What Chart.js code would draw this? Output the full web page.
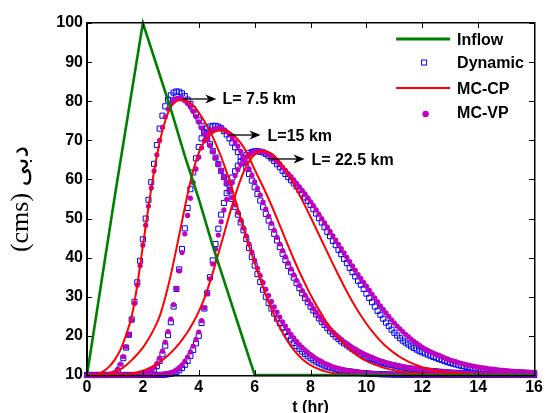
<!DOCTYPE html>
<html><head><meta charset="utf-8">
<style>html,body{margin:0;padding:0;background:#fff}</style>
<script src="https://cdn.jsdelivr.net/npm/chart.js@4.4.1/dist/chart.umd.min.js"></script>
</head><body>
<canvas id="c" width="546" height="413" style="display:block"></canvas>
<script>
// ---------- data ----------
const seriesNames = ['Inflow', 'Dynamic', 'MC-CP', 'MC-VP'];
const reachLabels = ['L= 7.5 km', 'L=15 km', 'L= 22.5 km'];
const xTickValues = [0, 2, 4, 6, 8, 10, 12, 14, 16];
const yTickValues = [10, 20, 30, 40, 50, 60, 70, 80, 90, 100];

const tInflow = [0, 0.5, 1, 1.5, 2, 2.5, 3, 3.5, 4, 4.5, 5, 5.5, 6, 16];
const inflow  = [10, 33, 56, 78, 100, 89, 78, 66, 55, 43, 32, 21, 10, 10];

const tMarker = [
0,0.1,0.2,0.3,0.4,0.5,0.6,0.7,0.8,0.9,
1,1.1,1.2,1.3,1.4,1.5,1.6,1.7,1.8,1.9,
2,2.1,2.2,2.3,2.4,2.5,2.6,2.7,2.8,2.9,
3,3.1,3.2,3.3,3.4,3.5,3.6,3.7,3.8,3.9,
4,4.1,4.2,4.3,4.4,4.5,4.6,4.7,4.8,4.9,
5,5.1,5.2,5.3,5.4,5.5,5.6,5.7,5.8,5.9,
6,6.1,6.2,6.3,6.4,6.5,6.6,6.7,6.8,6.9,
7,7.1,7.2,7.3,7.4,7.5,7.6,7.7,7.8,7.9,
8,8.1,8.2,8.3,8.4,8.5,8.6,8.7,8.8,8.9,
9,9.1,9.2,9.3,9.4,9.5,9.6,9.7,9.8,9.9,
10,10.1,10.2,10.3,10.4,10.5,10.6,10.7,10.8,10.9,
11,11.1,11.2,11.3,11.4,11.5,11.6,11.7,11.8,11.9,
12,12.1,12.2,12.3,12.4,12.5,12.6,12.7,12.8,12.9,
13,13.1,13.2,13.3,13.4,13.5,13.6,13.7,13.8,13.9,
14,14.1,14.2,14.3,14.4,14.5,14.6,14.7,14.8,14.9,
15,15.1,15.2,15.3,15.4,15.5,15.6,15.7,15.8,15.9,
16];

const tLine = [
0,0.2,0.4,0.6,0.8,1,1.2,1.4,1.6,1.8,
2,2.2,2.4,2.6,2.8,3,3.2,3.4,3.6,3.8,
4,4.2,4.4,4.6,4.8,5,5.2,5.4,5.6,5.8,
6,6.2,6.4,6.6,6.8,7,7.2,7.4,7.6,7.8,
8,8.2,8.4,8.6,8.8,9,9.2,9.4,9.6,9.8,
10,10.2,10.4,10.6,10.8,11,11.2,11.4,11.6,11.8,
12,12.2,12.4,12.6,12.8,13,13.2,13.4,13.6,13.8,
14,14.2,14.4,14.6,14.8,15,15.2,15.4,15.6,15.8,
16];

// Dynamic (blue squares)
const dyn75 = [
10,10,10,10,10,10,10,10,10,10.1,
10.3,11,12.3,14.3,17,20.3,24.2,28.7,33.7,39.2,
44.7,50,54.8,59.3,64,68.8,73,76.3,78.7,80.4,
81.5,82.2,82.5,82.4,82,81.3,80.4,79.3,78,76.6,
75.1,73.6,72,70.5,69,67.3,65.6,63.9,62.2,60.6,
59,57,55,53,51,49,47,44.8,42.5,40.2,
38,35.8,33.8,31.8,30,28.4,27,25.7,24.4,23.2,
22.1,21,20,19.1,18.2,17.4,16.7,16,15.4,14.8,
14.3,13.8,13.4,13,12.7,12.4,12.1,11.9,11.7,11.5,
11.3,11.2,11.1,11,10.9,10.8,10.7,10.6,10.5,10.45,
10.4,10.35,10.3,10.27,10.24,10.21,10.18,10.16,10.14,10.12,
10.1,10.09,10.08,10.07,10.06,10.05,10.04,10.04,10.03,10.03,
10.02,10.02,10.02,10.02,10.02,10.02,10.02,10.02,10.02,10.02,
10.01,10.01,10.01,10.01,10.01,10.01,10.01,10.01,10.01,10.01,
10,10,10,10,10,10,10,10,10,10,
10,10,10,10,10,10,10,10,10,10,
10];
const dyn15 = [
10,10,10,10,10,10,10,10,10,10,
10,10,10,10,10,10,10,10,10,10,
10.1,10.2,10.4,10.8,11.4,12.3,13.6,15.3,17.5,20.2,
23.5,27.5,32,37,42.2,47.5,52.7,57.5,61.8,65.4,
68.3,70.5,72,73,73.5,73.7,73.7,73.5,73.1,72.4,
71.5,70.5,69.4,68.2,67,65.8,64.4,63,61.4,59.7,
58,56.3,54.6,52.9,51.2,49.5,47.8,46.1,44.4,42.7,
41,39.4,37.9,36.4,34.9,33.5,32.2,30.9,29.7,28.6,
27.5,26.5,25.5,24.5,23.6,22.8,22,21.2,20.5,19.8,
19.2,18.6,18.1,17.6,17.1,16.6,16.2,15.8,15.4,15,
14.7,14.4,14.1,13.8,13.5,13.3,13.1,12.9,12.7,12.55,
12.4,12.25,12.1,11.95,11.8,11.7,11.6,11.5,11.4,11.3,
11.2,11.14,11.08,11.02,10.96,10.9,10.84,10.78,10.72,10.66,
10.6,10.57,10.54,10.51,10.48,10.45,10.42,10.39,10.36,10.33,
10.3,10.28,10.27,10.25,10.24,10.22,10.21,10.19,10.18,10.16,
10.15,10.14,10.13,10.12,10.11,10.1,10.09,10.08,10.07,10.06,
10.05];
const dyn225 = [
10,10,10,10,10,10,10,10,10,10,
10,10,10,10,10,10,10,10,10,10,
10,10,10,10,10,10,10,10.05,10.1,10.2,
10.3,10.5,10.8,11.2,11.8,12.6,13.6,14.9,16.4,18.1,
20,23.3,27,30.9,35,39.3,43.5,47.4,51,54,
56.5,58.6,60.5,62.1,63.5,64.6,65.5,66.2,66.7,67,
67.2,67.2,67.1,66.9,66.5,66,65.4,64.7,63.9,63.1,
62.2,61.4,60.6,59.8,59,58.2,57.3,56.4,55.4,54.5,
53.5,52.4,51.3,50.1,49,47.8,46.6,45.5,44.3,43.2,
42,40.9,39.7,38.6,37.4,36.3,35.2,34.1,33.1,32,
30.8,29.7,28.6,27.5,26.4,25.4,24.4,23.4,22.5,21.6,
20.8,20.1,19.4,18.8,18.3,17.8,17.3,16.9,16.5,16.1,
15.8,15.5,15.2,14.9,14.6,14.3,14.05,13.8,13.55,13.3,
13.1,12.9,12.7,12.5,12.35,12.2,12.05,11.9,11.78,11.66,
11.55,11.45,11.36,11.28,11.2,11.12,11.05,10.98,10.92,10.86,
10.81,10.76,10.72,10.68,10.64,10.61,10.58,10.55,10.52,10.5,
10.48];

// MC-VP (purple dots)
const vp75 = [
10,10,10,10,10,10,10,10,10.1,10.3,
10.7,11.5,12.8,14.7,17.2,20.3,24,28.3,33,38,
43.2,48.3,53.2,57.8,62.2,66.3,70,73.3,76,78,
79.4,80.3,80.7,80.8,80.6,80.1,79.4,78.5,77.4,76.1,
74.7,73.2,71.7,70.2,68.7,67.1,65.5,63.9,62.3,60.7,
59.1,57.3,55.4,53.5,51.6,49.6,47.6,45.6,43.5,41.4,
39.3,37.3,35.4,33.6,31.9,30.3,28.8,27.4,26.1,24.8,
23.6,22.5,21.4,20.4,19.5,18.6,17.8,17.1,16.4,15.8,
15.2,14.7,14.2,13.8,13.4,13,12.7,12.4,12.1,11.9,
11.7,11.5,11.3,11.2,11.1,11,10.9,10.8,10.7,10.6,
10.5,10.45,10.4,10.35,10.3,10.26,10.22,10.19,10.16,10.14,
10.12,10.1,10.08,10.07,10.06,10.05,10.04,10.03,10.03,10.02,
10,10,10,10,10,10,10,10,10,10,
10,10,10,10,10,10,10,10,10,10,
10,10,10,10,10,10,10,10,10,10,
10,10,10,10,10,10,10,10,10,10,
10];
const vp15 = [
10,10,10,10,10,10,10,10,10,10,
10,10,10,10,10,10,10,10,10.05,10.1,
10.2,10.4,10.7,11.2,11.9,12.9,14.3,16.1,18.4,21.1,
24.3,28,32.1,36.6,41.3,46.1,50.8,55.2,59.2,62.7,
65.7,68.1,69.9,71.2,72.1,72.7,73,73.1,73,72.7,
72.2,71.5,70.6,69.6,68.5,67.2,65.8,64.3,62.7,61.1,
59.4,57.7,56,54.2,52.4,50.6,48.8,47,45.2,43.5,
41.8,40.2,38.6,37.1,35.6,34.2,32.9,31.6,30.4,29.2,
28.1,27,26,25,24.1,23.3,22.5,21.7,21,20.3,
19.7,19.1,18.5,18,17.5,17,16.6,16.2,15.8,15.4,
15.1,14.8,14.5,14.2,13.9,13.6,13.4,13.2,13,12.8,
12.6,12.45,12.3,12.15,12,11.9,11.8,11.7,11.6,11.5,
11.4,11.32,11.24,11.16,11.08,11,10.94,10.88,10.82,10.76,
10.7,10.66,10.62,10.58,10.54,10.5,10.47,10.44,10.41,10.38,
10.35,10.33,10.31,10.29,10.27,10.25,10.23,10.21,10.2,10.19,
10.18,10.17,10.16,10.15,10.14,10.13,10.12,10.11,10.1,10.09,
10.08];
const vp225 = [
10,10,10,10,10,10,10,10,10,10,
10,10,10,10,10,10,10,10,10,10,
10,10,10,10,10,10.05,10.1,10.15,10.25,10.4,
10.6,10.9,11.3,11.9,12.6,13.5,14.6,15.9,17.4,19.1,
21,23.9,27.2,30.8,34.6,38.4,42.2,45.8,49.2,52.2,
54.9,57.2,59.2,61,62.5,63.8,64.9,65.7,66.3,66.8,
67.1,67.2,67.2,67.1,66.8,66.4,65.9,65.3,64.6,63.9,
63.1,62.3,61.5,60.7,59.9,59,58.1,57.2,56.3,55.3,
54.3,53.3,52.2,51.1,50,48.9,47.8,46.7,45.6,44.5,
43.4,42.3,41.2,40.1,39,37.9,36.8,35.7,34.7,33.7,
32.7,31.7,30.7,29.7,28.7,27.7,26.8,25.9,25,24.1,
23.3,22.5,21.8,21.1,20.4,19.8,19.2,18.6,18.1,17.6,
17.1,16.7,16.3,15.9,15.6,15.3,15,14.7,14.4,14.1,
13.8,13.6,13.4,13.2,13,12.8,12.6,12.45,12.3,12.15,
12,11.9,11.8,11.7,11.6,11.5,11.42,11.34,11.26,11.19,
11.12,11.06,11,10.95,10.9,10.85,10.8,10.76,10.72,10.68,
10.65];

// MC-CP (red lines)
const cp75 = [
10,10,10.3,11,12.2,14,16.5,20.3,25,33,
43,53,62,69.5,75,78.5,80,80.4,80,78.9,
77.1,74.9,72.3,69.3,65.8,61.8,57.4,52.5,47.6,43,
38.7,34.5,30.4,26.9,23.7,20.8,18.4,16.4,14.8,13.5,
12.5,11.8,11.2,10.8,10.5,10.3,10.2,10.1,10.05,10.02,
10,10,10,10,10,10,10,10,10,10,
10,10,10,10,10,10,10,10,10,10,
10,10,10,10,10,10,10,10,10,10,
10];
const cp15 = [
10,10,10,10.1,10.3,10.8,11.5,12.5,13.8,15.3,
17,19.2,21.8,25,29.8,35.6,42.3,49.3,56.2,62.2,
66.8,69.7,71.4,72.3,72.6,72.4,71.6,70.2,68.3,65.6,
62.5,59.6,56.6,53.4,50,46.5,43,39.6,36.4,33.4,
30.5,27.9,25.5,23.2,21.3,19.5,18,16.6,15.4,14.4,
13.6,12.9,12.4,11.9,11.5,11.2,10.95,10.75,10.6,10.45,
10.35,10.27,10.2,10.15,10.1,10.07,10.05,10.03,10.02,10.01,
10,10,10,10,10,10,10,10,10,10,
10];
const cp225 = [
10,10,10,10,10,10,10.1,10.2,10.4,10.7,
11.1,11.7,12.4,13.3,14.4,15.7,17.2,19,21,23.4,
26.2,29.6,33.8,38.5,43.5,48.5,53.5,58,61.8,64.6,
66.4,67.2,67.2,66.6,65.3,63.5,61.3,58.8,56.1,53.3,
50.4,47.4,44.4,41.4,38.4,35.5,32.7,30,27.5,25.2,
23.1,21.2,19.5,18,16.7,15.6,14.6,13.8,13.1,12.5,
12,11.6,11.3,11,10.8,10.6,10.5,10.4,10.3,10.22,
10.16,10.12,10.09,10.07,10.05,10.04,10.03,10.02,10.01,10,
10];

// ---------- chart ----------
Chart.defaults.font.family = "'Liberation Sans', Arial, Helvetica, sans-serif";
Chart.defaults.color = '#000';

const COL = { inflow: '#008000', dyn: '#0000ff', cp: '#ff0000', vp: '#bf00bf' };
const pts = (tt, vv) => tt.map((t, i) => ({ x: t, y: vv[i] }));

const datasets = [
  { label: seriesNames[0], data: pts(tInflow, inflow), borderColor: COL.inflow, borderWidth: 2.6,
    pointRadius: 0, tension: 0, order: 0, clip: false },
];
[cp75, cp15, cp225].forEach(v => datasets.push({
  label: seriesNames[2], data: pts(tLine, v), borderColor: COL.cp, borderWidth: 2,
  pointRadius: 0, cubicInterpolationMode: 'monotone', order: 1, clip: false }));
[vp75, vp15, vp225].forEach(v => datasets.push({
  label: seriesNames[3], data: pts(tMarker, v), showLine: false, pointStyle: 'circle',
  pointRadius: 2.6, pointBackgroundColor: COL.vp, pointBorderWidth: 0, order: 2, clip: false }));
[dyn75, dyn15, dyn225].forEach(v => datasets.push({
  label: seriesNames[1], data: pts(tMarker, v), showLine: false, pointStyle: 'rect',
  pointRadius: 3.6, pointBorderColor: COL.dyn, pointBorderWidth: 1,
  pointBackgroundColor: 'rgba(0,0,0,0)', order: 3, clip: false }));

// annotation anchors (data coordinates)
const annot = [
  { text: reachLabels[0], t0: 3.43, t1: 4.63, ya: 80.57, tt: 4.85, yt: 80.3 },
  { text: reachLabels[1], t0: 5.07, t1: 6.21, ya: 71.36, tt: 6.46, yt: 70.93 },
  { text: reachLabels[2], t0: 6.5,  t1: 7.79, ya: 65.23, tt: 8.03, yt: 64.84 },
];

const decor = {
  id: 'decor',
  afterDraw(chart) {
    const ctx = chart.ctx, ca = chart.chartArea, x = chart.scales.x, y = chart.scales.y;
    ctx.save();
    ctx.globalAlpha = 1;
    ctx.fillStyle = '#000';
    const L = Math.round(ca.left), R = Math.round(ca.right), T = Math.round(ca.top), B = Math.round(ca.bottom);
    // frame (filled 1px rectangles)
    ctx.fillRect(L - 1, T - 1, R - L + 2, 1.5);
    ctx.fillRect(L - 1, B, R - L + 2, 1.5);
    ctx.fillRect(L - 1, T - 1, 1.5, B - T + 2);
    ctx.fillRect(R, T - 1, 1.5, B - T + 2);
    // inward ticks on all four sides
    const tl = 5;
    x.ticks.forEach(tk => {
      const px = Math.round(x.getPixelForValue(tk.value));
      ctx.fillRect(px, B - tl, 1, tl);
      ctx.fillRect(px, T, 1, tl);
    });
    y.ticks.forEach(tk => {
      const py = Math.round(y.getPixelForValue(tk.value));
      ctx.fillRect(L, py, tl, 1);
      ctx.fillRect(R - tl, py, tl, 1);
    });

    // annotations with arrows
    ctx.font = "bold 16px 'Liberation Sans', Arial, sans-serif";
    ctx.textBaseline = 'middle'; ctx.textAlign = 'left';
    ctx.strokeStyle = '#000';
    annot.forEach(a => {
      const x0 = x.getPixelForValue(a.t0), x1 = x.getPixelForValue(a.t1), ya = y.getPixelForValue(a.ya);
      ctx.beginPath(); ctx.lineWidth = 1.3;
      ctx.moveTo(x0, ya); ctx.lineTo(x1 - 6, ya); ctx.stroke();
      ctx.beginPath();
      ctx.moveTo(x1, ya); ctx.lineTo(x1 - 11, ya - 4.5); ctx.lineTo(x1 - 8, ya);
      ctx.lineTo(x1 - 11, ya + 4.5); ctx.closePath(); ctx.fill();
      ctx.fillText(a.text, x.getPixelForValue(a.tt), y.getPixelForValue(a.yt));
    });

    // legend (inside plot, top right)
    const lx = ca.right - 138, tx = ca.right - 77;
    const rows = [ca.top + 17.5, ca.top + 40.5, ca.top + 67, ca.top + 91];
    ctx.lineWidth = 3; ctx.strokeStyle = COL.inflow;
    ctx.beginPath(); ctx.moveTo(lx, rows[0] - 1.5); ctx.lineTo(lx + 54, rows[0] - 1.5); ctx.stroke();
    ctx.lineWidth = 1; ctx.strokeStyle = COL.dyn;
    ctx.strokeRect(lx + 25.5, rows[1] - 3.5, 5, 5);
    ctx.lineWidth = 2; ctx.strokeStyle = COL.cp;
    ctx.beginPath(); ctx.moveTo(lx, rows[2] - 2); ctx.lineTo(lx + 54, rows[2] - 2); ctx.stroke();
    ctx.fillStyle = COL.vp;
    ctx.beginPath(); ctx.arc(lx + 29.5, rows[3], 3.2, 0, Math.PI * 2); ctx.fill();
    ctx.fillStyle = '#000';
    ctx.fillText(seriesNames[0], tx, rows[0]);
    ctx.fillText(seriesNames[1], tx, rows[1]);
    ctx.fillText(seriesNames[2], tx, rows[2]);
    ctx.fillText(seriesNames[3], tx, rows[3]);
    ctx.restore();
  }
};

new Chart(document.getElementById('c'), {
  type: 'line',
  data: { datasets },
  plugins: [decor],
  options: {
    responsive: false, animation: false, devicePixelRatio: 1,
    layout: { padding: { top: 23, right: 11, left: 0, bottom: 0 } },
    plugins: { legend: { display: false }, tooltip: { enabled: false } },
    scales: {
      x: {
        type: 'linear', min: 0, max: 16,
        afterBuildTicks: s => { s.ticks = xTickValues.map(v => ({ value: v })); },
        afterFit: s => { s.height = 38; },
        grid: { display: false, drawTicks: false }, border: { display: true, color: '#000', width: 1 },
        ticks: { padding: 3, color: '#000', font: { size: 16, weight: 'bold' }, maxRotation: 0, autoSkip: false },
        title: { display: true, text: 't (hr)', color: '#000', font: { size: 16, weight: 'bold' },
                 padding: { top: 0, bottom: -4 } }
      },
      y: {
        min: 10, max: 100,
        afterBuildTicks: s => { s.ticks = yTickValues.map(v => ({ value: v })); },
        afterFit: s => { s.width = 87; },
        grid: { display: false, drawTicks: false }, border: { display: true, color: '#000', width: 1 },
        ticks: { padding: 4, color: '#000', font: { size: 16, weight: 'bold' } },
        title: { display: true, text: '(cms) دبی', color: '#000', align: 'center',
                 font: { family: "'Liberation Serif', 'Times New Roman', 'DejaVu Sans', serif", size: 26, weight: 'normal' },
                 padding: { top: 6, bottom: 0 } }
      }
    }
  }
});
</script>
</body></html>
